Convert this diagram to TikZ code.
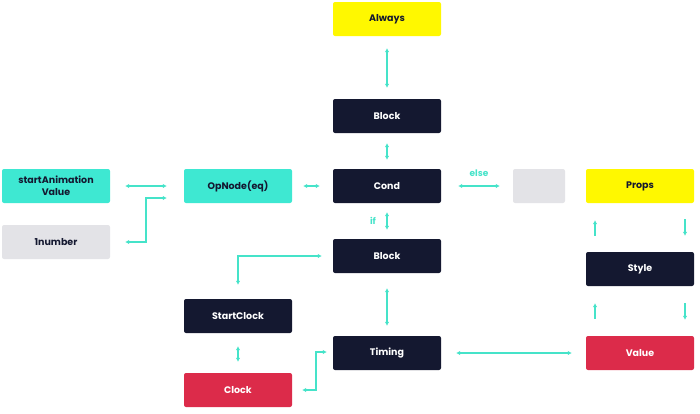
\documentclass[tikz,border=0pt]{standalone}
\usepackage{fontspec}
\setmainfont{Poppins}
\usetikzlibrary{arrows.meta}
\definecolor{navy}{HTML}{141830}
\definecolor{yel}{HTML}{FFF800}
\definecolor{tealbox}{HTML}{3EE8D2}
\definecolor{graybox}{HTML}{E3E3E7}
\definecolor{redbox}{HTML}{DC2B4A}
\definecolor{arr}{HTML}{45E3C9}
\tikzset{
  box/.style={minimum width=108pt,minimum height=34pt,rounded corners=2pt,inner sep=0pt,align=center,font=\fontsize{9.5}{12}\selectfont\bfseries},
  dark/.style={box,fill=navy,text=white},
  yellowbox/.style={box,fill=yel,text=navy},
  tbox/.style={box,fill=tealbox,text=navy},
  gbox/.style={box,fill=graybox,text=navy},
  rbox/.style={box,fill=redbox,text=white},
  conn/.style={draw=arr,line width=1.4pt,{Latex[length=4pt,width=4.5pt]}-{Latex[length=4pt,width=4.5pt]}},
  one/.style={draw=arr,line width=1.4pt,-{Latex[length=4pt,width=4.5pt]}},
  lbl/.style={text=arr,font=\fontsize{9}{11}\selectfont\bfseries}
}
\begin{document}
\begin{tikzpicture}[x=1pt,y=-1pt]
\useasboundingbox (0,0) rectangle (700,413);
\node[yellowbox] (always) at (387,19) {Always};
\node[dark] (block1) at (387,116) {Block};
\node[dark] (cond) at (387,186) {Cond};
\node[dark] (block2) at (387,256) {Block};
\node[dark] (timing) at (387,353) {Timing};
\node[tbox] (start) at (56,186) {startAnimation\\Value};
\node[gbox] (num) at (56,242) {1number};
\node[tbox] (op) at (238,186) {OpNode(eq)};
\node[dark] (sclock) at (238,316) {StartClock};
\node[rbox] (clock) at (238,390) {Clock};
\node[gbox,minimum width=52pt] (empty) at (539,186) {};
\node[yellowbox] (props) at (640,186) {Props};
\node[dark] (style) at (640,269) {Style};
\node[rbox] (value) at (640,353) {Value};

\draw[conn] ([shift={(0,12)}]always.south) -- ([shift={(0,-11)}]block1.north);
\draw[conn] ([shift={(0,10)}]block1.south) -- ([shift={(0,-9)}]cond.north);
\draw[conn] ([shift={(0,9)}]cond.south) -- ([shift={(0,-9)}]block2.north);
\node[lbl] (iflbl) at (373,221) {if};
\draw[conn] ([shift={(0,15)}]block2.south) -- ([shift={(0,-10)}]timing.north);
\draw[conn] ([shift={(15,0)}]start.east) -- ([shift={(-17,0)}]op.west);
\coordinate (c1) at (146,198);
\coordinate (c2) at (146,242);
\draw[conn] ([shift={(15,0)}]num.east) -- (c2) -- (c1) -- ([shift={(-17,12)}]op.west);
\draw[conn] ([shift={(11,0)}]op.east) -- ([shift={(-13,0)}]cond.west);
\draw[conn] ([shift={(17,0)}]cond.east) -- ([shift={(-13,0)}]empty.west);
\node[lbl] (elselbl) at (479,173) {else};
\coordinate (c3) at (238,256);
\draw[conn] ([shift={(-11,0)}]block2.west) -- (c3) -- ([shift={(0,-14)}]sclock.north);
\draw[conn] ([shift={(0,13)}]sclock.south) -- ([shift={(0,-11)}]clock.north);
\coordinate (c4) at (316,390);
\coordinate (c5) at (316,352);
\draw[conn] ([shift={(10,0)}]clock.east) -- (c4) -- (c5) -- ([shift={(-6,-1)}]timing.west);
\draw[conn] ([shift={(15,0)}]timing.east) -- ([shift={(-14,0)}]value.west);
\draw[one] ([shift={(-45,-16)}]style.north) -- ([shift={(-45,17)}]props.south);
\draw[one] ([shift={(45,16)}]props.south) -- ([shift={(45,-16)}]style.north);
\draw[one] ([shift={(-45,-17)}]value.north) -- ([shift={(-45,17)}]style.south);
\draw[one] ([shift={(45,17)}]style.south) -- ([shift={(45,-16)}]value.north);
\end{tikzpicture}
\end{document}
